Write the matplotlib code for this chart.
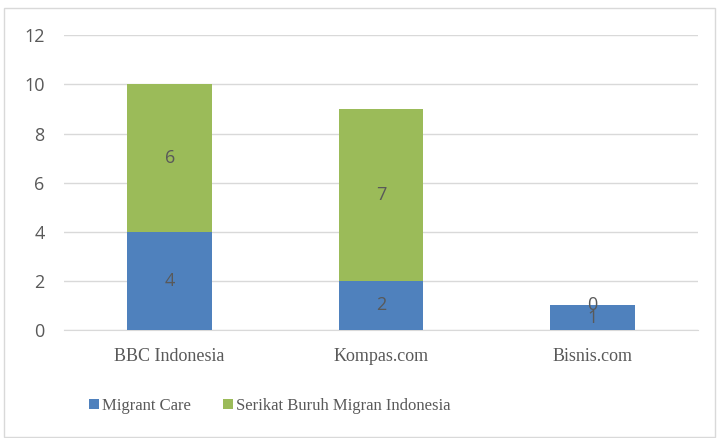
import matplotlib
matplotlib.use("Agg")
import matplotlib.pyplot as plt
from matplotlib.patches import Rectangle
import numpy as np

categories = ["BBC Indonesia", "Kompas.com", "Bisnis.com"]
migrant_care = [4, 2, 1]
sbmi = [6, 7, 0]
series_names = ["Migrant Care", "Serikat Buruh Migran Indonesia"]
yticks = [0, 2, 4, 6, 8, 10, 12]

blue = "#4F81BD"
green = "#9BBB59"
gray = "#595959"

fig = plt.figure(figsize=(7.17, 4.38), dpi=100)
fig.patches.append(Rectangle((4/717, 1-437/438), 711/717, 429/438, transform=fig.transFigure,
                             fill=False, edgecolor="#D9D9D9", linewidth=1.0))
ax = fig.add_axes([64/717, 1-330/438, 634/717, (330-35.3)/438])

x = np.arange(len(categories))
b1 = ax.bar(x, migrant_care, width=0.4, color=blue, zorder=3)
b2 = ax.bar(x, sbmi, width=0.4, bottom=migrant_care, color=green, zorder=3)

for i in range(len(categories)):
    ax.text(x[i], migrant_care[i]/2, str(migrant_care[i]), ha="center", va="center",
            fontsize=13, color=gray, family="Open Sans", zorder=4)
    ax.text(x[i], migrant_care[i] + sbmi[i]/2, str(sbmi[i]), ha="center", va="center",
            fontsize=13, color=gray, family="Open Sans", zorder=4)

ax.set_xlim(-0.5, 2.5)
ax.set_ylim(0, 12)
ax.set_yticks(yticks)
ax.set_yticklabels([str(v) for v in yticks], family="Open Sans", fontsize=13, color=gray)
ax.set_xticks(x)
ax.set_xticklabels(categories, family="Liberation Serif", fontsize=13, color=gray)
ax.tick_params(axis="both", length=0)
ax.tick_params(axis="y", pad=14)
ax.tick_params(axis="x", pad=13)
ax.grid(axis="y", color="#D9D9D9", linewidth=1.0, zorder=0)
for s in ax.spines.values():
    s.set_visible(False)
ax.spines["bottom"].set_visible(True)
ax.spines["bottom"].set_color("#D9D9D9")

leg = fig.legend([b1, b2], series_names, loc="center", bbox_to_anchor=(270/717, 1-406/438),
                 ncol=2, frameon=False, prop={"family": "Liberation Serif", "size": 12},
                 handlelength=0.6, handleheight=0.6, handletextpad=0.2, columnspacing=1.9)
for t in leg.get_texts():
    t.set_color(gray)

fig.savefig("out.png", dpi=100)
